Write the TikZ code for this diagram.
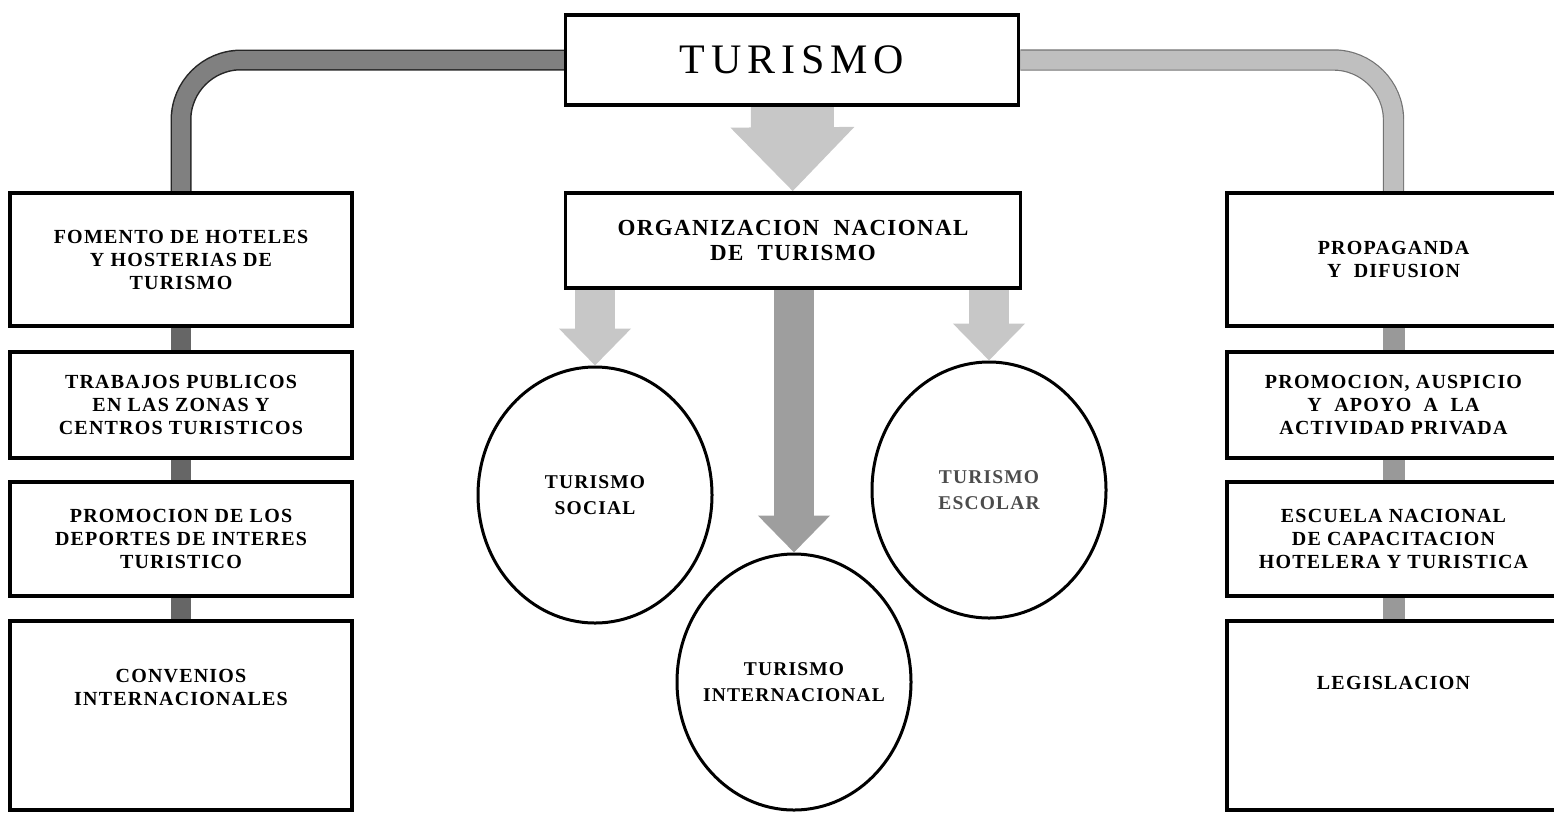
\documentclass[tikz,border=0pt]{standalone}
\usepackage{fontspec}
\setmainfont{Liberation Serif}
\newfontfamily\titlefont[LetterSpace=14]{Liberation Serif}
\newfontfamily\boxfont[LetterSpace=6]{Liberation Serif}
\usetikzlibrary{arrows.meta,shapes.geometric,positioning,backgrounds}

\tikzset{
  box/.style={draw, line width=3.5pt, fill=white, rectangle, inner sep=0pt, align=center},
  boxtext/.style={align=center, inner sep=0pt, font=\boxfont\bfseries\fontsize{20}{23}\selectfont},
  leftbox/.style={box, minimum width=342pt, font=\boxfont\bfseries\fontsize{20}{23}\selectfont},
  rightbox/.style={box, minimum width=333pt, font=\boxfont\bfseries\fontsize{20}{23}\selectfont},
  ring/.style={draw, ellipse, line width=3pt, fill=white, inner sep=-40pt, align=center,
    minimum width=234pt, minimum height=256pt, font=\boxfont\bfseries\fontsize{19.5}{26}\selectfont},
  leftband/.style={line width=1.5pt, draw=black!85, double=black!50, double distance=18pt, rounded corners=60pt},
  rightband/.style={line width=1.2pt, draw=black!55, double=black!25, double distance=19pt, rounded corners=60pt},
  leftlink/.style={line width=20pt, draw=black!60},
  rightlink/.style={line width=22pt, draw=black!40},
  fatarrow/.style={line width=40pt, draw=black!22, -{Triangle[width=70pt,length=37pt]}}
}

\begin{document}
\begin{tikzpicture}[x=1pt,y=-1pt]
\useasboundingbox (0,0) rectangle (1554,812);
\clip (0,0) rectangle (1554,812);

\node[box, minimum width=453pt, minimum height=90pt, font=\titlefont\fontsize{42}{42}\selectfont] (turismo) at (792,60) {TURISMO};
\node[box, minimum width=455pt, minimum height=95pt, font=\boxfont\bfseries\fontsize{23}{25}\selectfont] (org) at (793,240.5) {ORGANIZACION\ \ NACIONAL\\DE\ \ TURISMO};

\node[leftbox, minimum height=133pt] (fomento) at (181,259.5) {FOMENTO DE HOTELES\\Y HOSTERIAS DE\\TURISMO};
\node[leftbox, minimum height=106pt] (trabajos) at (181,405) {TRABAJOS PUBLICOS\\EN LAS ZONAS Y\\CENTROS TURISTICOS};
\node[leftbox, minimum height=114pt] (deportes) at (181,539) {PROMOCION DE LOS\\DEPORTES DE INTERES\\TURISTICO};
\node[leftbox, minimum height=189pt] (convenios) at (181,715.5) {};
\node[boxtext] (convlabel) at ([yshift=28pt]convenios.center) {CONVENIOS\\INTERNACIONALES};

\node[rightbox, minimum height=133pt] (propaganda) at (1393.5,259.5) {PROPAGANDA\\Y\ \ DIFUSION};
\node[rightbox, minimum height=106pt] (apoyo) at (1393.5,405) {PROMOCION, AUSPICIO\\Y\ \ APOYO\ \ A\ \ LA\\ACTIVIDAD PRIVADA};
\node[rightbox, minimum height=114pt] (escuela) at (1393.5,539) {ESCUELA NACIONAL\\DE CAPACITACION\\HOTELERA Y TURISTICA};
\node[rightbox, minimum height=189pt] (legis) at (1393.5,715.5) {};
\node[boxtext] (legislabel) at ([yshift=33pt]legis.center) {LEGISLACION};

\node[ring] (social) at (595,495) {TURISMO\\SOCIAL};
\node[ring] (intl) at (794,682) {TURISMO\\INTERNACIONAL};
\node[ring, text=black!70] (escolar) at (989,490) {TURISMO\\ESCOLAR};

\begin{scope}[on background layer]
\draw[leftband] (turismo.west) -| (fomento.north);
\draw[rightband] (turismo.east) -| (propaganda.north);
\draw[leftlink] (fomento) -- (trabajos);
\draw[leftlink] (trabajos) -- (deportes);
\draw[leftlink] (deportes) -- (convenios);
\draw[rightlink] (propaganda) -- (apoyo);
\draw[rightlink] (apoyo) -- (escuela);
\draw[rightlink] (escuela) -- (legis);
\draw[fatarrow, line width=83pt, -{Triangle[width=120pt,length=64pt]}] (turismo) -- (org);
\draw[fatarrow] (org.south -| social.north) -- (social.north);
\draw[fatarrow, draw=black!38] (org.south -| intl.north) -- (intl.north);
\draw[fatarrow] (org.south -| escolar.north) -- (escolar.north);
\end{scope}
\end{tikzpicture}
\end{document}
